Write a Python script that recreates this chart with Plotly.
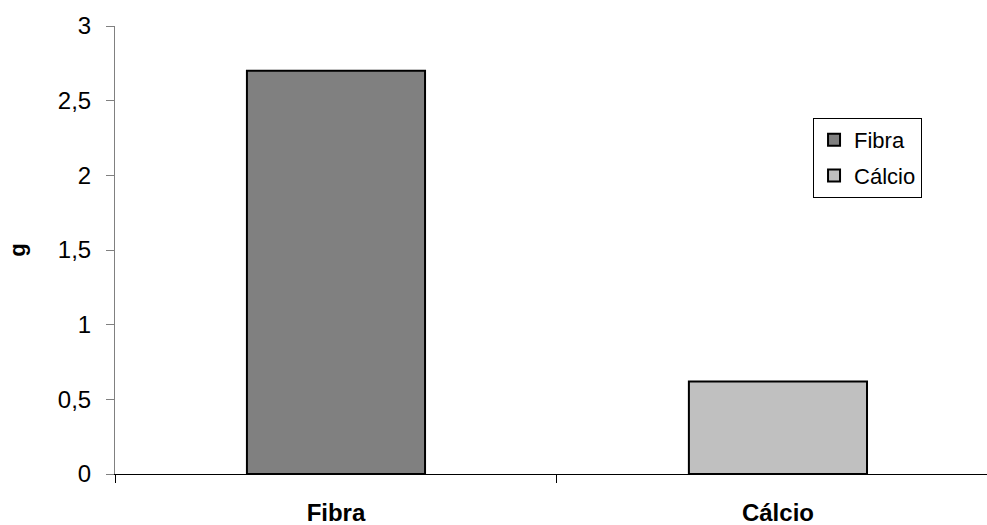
import plotly.graph_objects as go

categories = ["Fibra", "Cálcio"]
values = [2.7, 0.62]
series_names = ["Fibra", "Cálcio"]
colors = ["#808080", "#C0C0C0"]
y_ticks = [0, 0.5, 1, 1.5, 2, 2.5, 3]

fig = go.Figure()
for i, (cat, val) in enumerate(zip(categories, values)):
    fig.add_trace(go.Bar(
        x=[cat], y=[val], name=series_names[i],
        marker=dict(color=colors[i], line=dict(color="black", width=2)),
        width=0.403, legendgroup=series_names[i],
    ))

fig.update_layout(
    width=987, height=525,
    margin=dict(l=115, r=0, t=26, b=51),
    plot_bgcolor="white", paper_bgcolor="white",
    barmode="overlay",
    separators=",.",
    font=dict(family="Arial, Liberation Sans, sans-serif", color="black"),
    legend=dict(
        x=0.8005, y=0.7946, xanchor="left", yanchor="top",
        bordercolor="black", borderwidth=1,
        font=dict(size=22), tracegroupgap=4,
        traceorder="grouped", itemwidth=30,
    ),
    showlegend=True,
)
fig.update_xaxes(
    type="category", categoryorder="array", categoryarray=categories,
    range=[-0.5, 1.473],
    showline=True, linecolor="black", linewidth=1,
    ticks="outside", tickson="boundaries", ticklen=8, tickcolor="black",
    tickfont=dict(size=24, family="Arial, Liberation Sans, sans-serif", weight="bold"),
    ticklabelstandoff=17,
    showgrid=False, zeroline=False,
)
fig.update_yaxes(
    range=[0, 3], tickvals=y_ticks,
    showline=True, linecolor="#808080", linewidth=1,
    ticks="outside", ticklen=8, tickcolor="#808080",
    tickfont=dict(size=24),
    ticklabelstandoff=10,
    showgrid=False, zeroline=False,
    title=dict(text="<b>g</b>", font=dict(size=22), standoff=26),
)

fig.write_html("out.html")
